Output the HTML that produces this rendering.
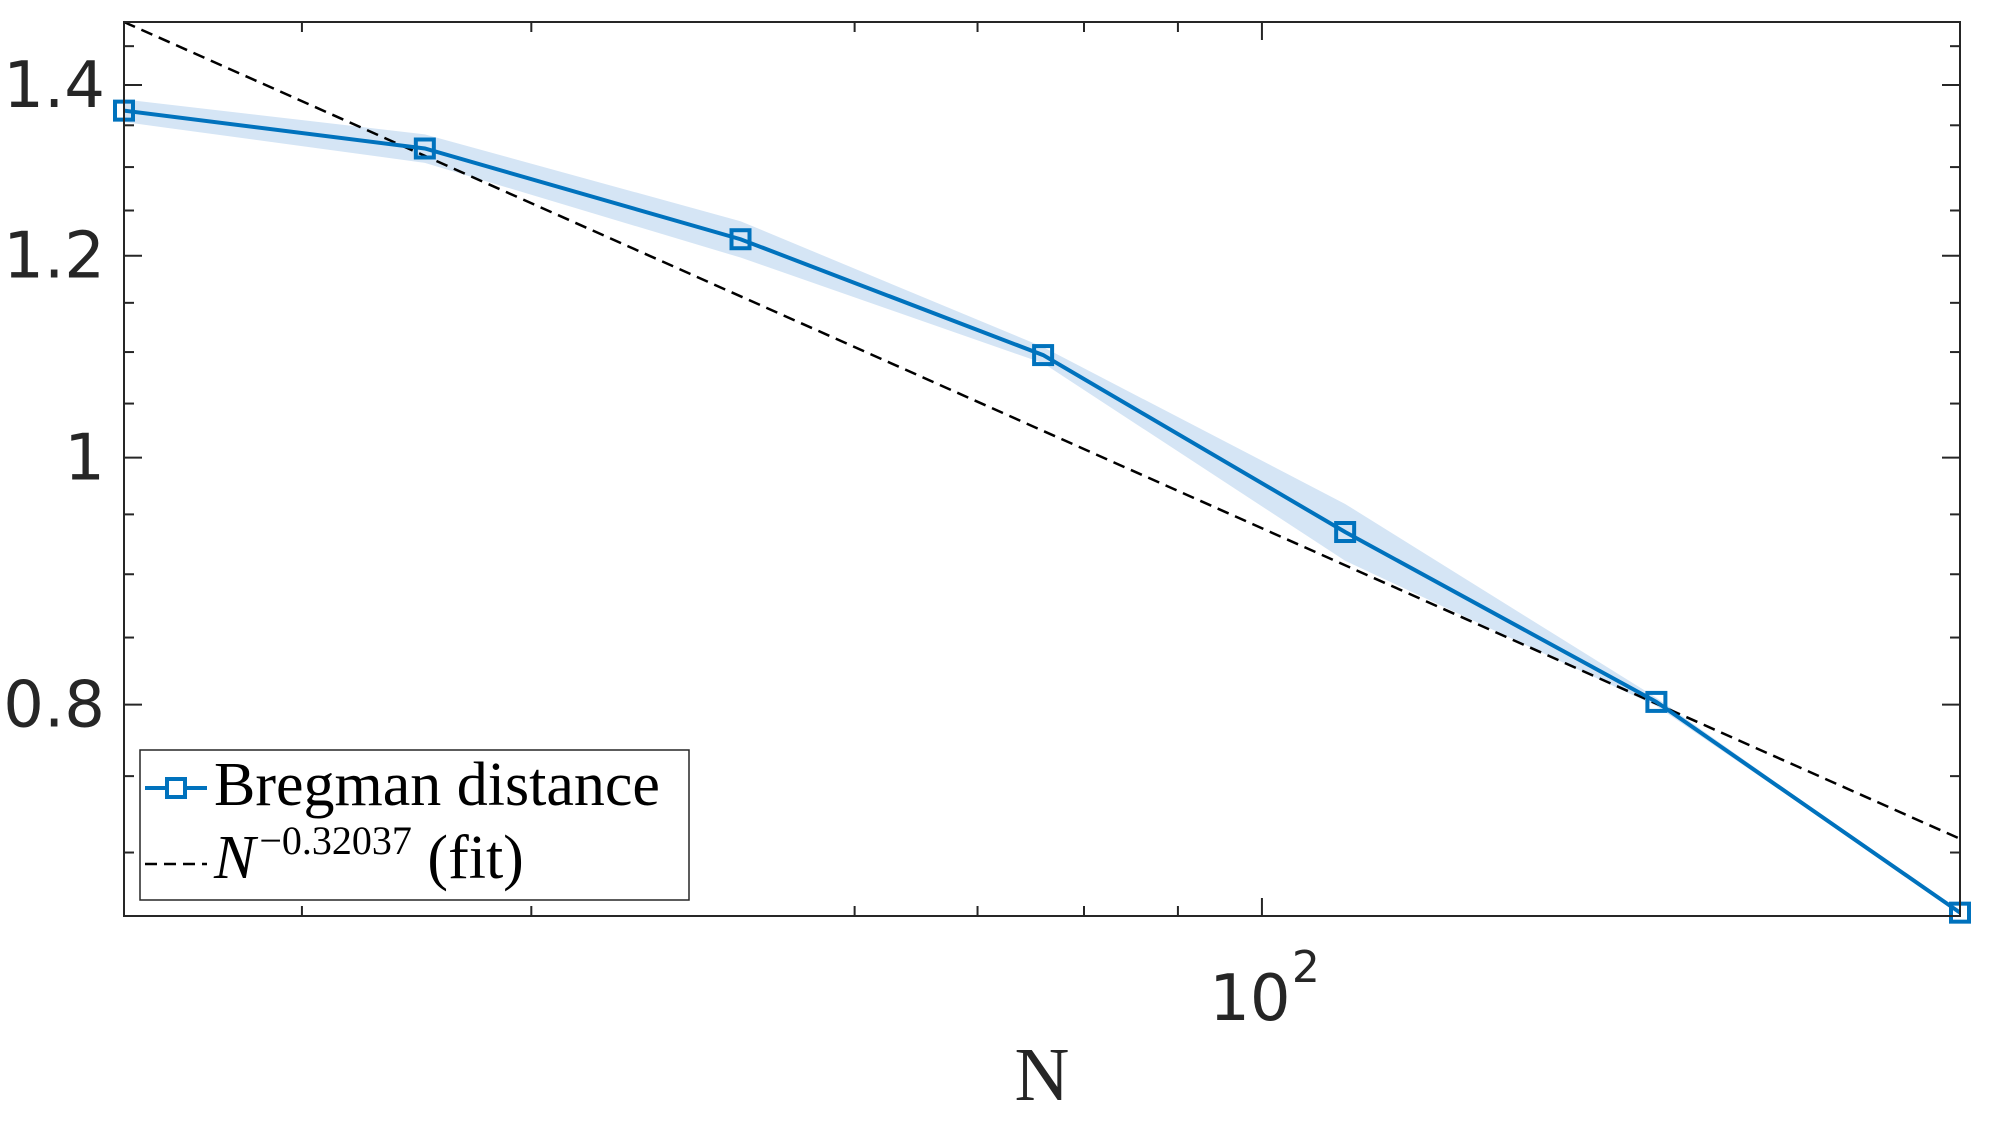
<!DOCTYPE html>
<html><head><meta charset="utf-8"><style>body{margin:0;background:#fff;position:relative}svg{display:block}</style></head>
<body>
<svg id="chart" width="2000" height="1125" xmlns="http://www.w3.org/2000/svg">
<rect x="0" y="0" width="2000" height="1125" fill="#fff"/>
<g id="plot"></g>
</svg>
<script>
const nValues = [24, 35, 52, 76, 111, 164, 240];
const distValues = [1.368, 1.322, 1.218, 1.097, 0.935, 0.802, 0.663];
const errValues = [0.014, 0.017, 0.02, 0.008, 0.024, 0.003, 0.0];
const fitExponent = -0.32037;
const fitAtLeft = 1.482;
const yMajorTicks = [0.8, 1, 1.2, 1.4];
const yTickLabels = ['0.8', '1', '1.2', '1.4'];
const yMinorTicks = [0.7, 0.75, 0.85, 0.9, 0.95, 1.05, 1.1, 1.15, 1.25, 1.3, 1.35, 1.45];
const xMinorTicks = [30, 40, 60, 70, 80, 90];
const xMajorTicks = [100];

const L=124,R=1960,T=22,B=916;
const xMin=24,xMax=240,yMin=0.661,yMax=1.482;
function X(n){return L+(Math.log10(n)-Math.log10(xMin))/(Math.log10(xMax)-Math.log10(xMin))*(R-L);}
function Y(v){return B-(Math.log10(v)-Math.log10(yMin))/(Math.log10(yMax)-Math.log10(yMin))*(B-T);}
const NS='http://www.w3.org/2000/svg';
const g=document.getElementById('plot');
function mk(tag,attrs,parent){const e=document.createElementNS(NS,tag);for(const k in attrs)e.setAttribute(k,attrs[k]);(parent||g).appendChild(e);return e;}

let up=nValues.map((n,i)=>X(n)+','+Y(distValues[i]+errValues[i]));
let lo=nValues.map((n,i)=>X(n)+','+Y(distValues[i]-errValues[i])).reverse();
const band=mk('polygon',{points:up.concat(lo).join(' '),fill:'#d5e5f5'});



const C=fitAtLeft*Math.pow(xMin,-fitExponent);
const fit=mk('line',{x1:X(xMin),y1:Y(C*Math.pow(xMin,fitExponent)),x2:X(xMax),y2:Y(C*Math.pow(xMax,fitExponent)),stroke:'#000','stroke-width':2.5,'stroke-dasharray':'12,7'});



const line=mk('polyline',{points:nValues.map((n,i)=>X(n)+','+Y(distValues[i])).join(' '),fill:'none',stroke:'#0072BD','stroke-width':4});


nValues.forEach((n,i)=>{
  const m=mk('rect',{x:X(n)-9,y:Y(distValues[i])-9,width:18,height:18,fill:'none',stroke:'#0072BD','stroke-width':4});
  
  
});

const box=mk('rect',{x:L,y:T,width:R-L,height:B-T,fill:'none',stroke:'#262626','stroke-width':2});



yMajorTicks.forEach((v,i)=>{
  mk('line',{x1:L,y1:Y(v),x2:L+18,y2:Y(v),stroke:'#262626','stroke-width':2});
  mk('line',{x1:R,y1:Y(v),x2:R-18,y2:Y(v),stroke:'#262626','stroke-width':2});
  const t=mk('text',{x:105,y:Y(v)+22,'text-anchor':'end','font-family':'"DejaVu Sans","Liberation Sans",sans-serif','font-size':64,fill:'#262626'});
  t.textContent=yTickLabels[i];
  
  
});
yMinorTicks.forEach(v=>{
  mk('line',{x1:L,y1:Y(v),x2:L+10,y2:Y(v),stroke:'#262626','stroke-width':2});
  mk('line',{x1:R,y1:Y(v),x2:R-10,y2:Y(v),stroke:'#262626','stroke-width':2});
});
xMinorTicks.forEach(n=>{
  mk('line',{x1:X(n),y1:B,x2:X(n),y2:B-10,stroke:'#262626','stroke-width':2});
  mk('line',{x1:X(n),y1:T,x2:X(n),y2:T+10,stroke:'#262626','stroke-width':2});
});
xMajorTicks.forEach(n=>{
  mk('line',{x1:X(n),y1:B,x2:X(n),y2:B-18,stroke:'#262626','stroke-width':2});
  mk('line',{x1:X(n),y1:T,x2:X(n),y2:T+18,stroke:'#262626','stroke-width':2});
  const t=mk('text',{x:X(n)-12,y:1020,'text-anchor':'middle','font-family':'"DejaVu Sans","Liberation Sans",sans-serif','font-size':64,fill:'#262626'});
  t.textContent='10';
  
  
  const s=mk('text',{x:X(n)+30,y:982,'font-family':'"DejaVu Sans","Liberation Sans",sans-serif','font-size':44,fill:'#262626'});
  s.textContent='2';
  
  
});
</script>
<svg style="position:absolute;left:0;top:0" width="2000" height="1125" xmlns="http://www.w3.org/2000/svg">
<text x="1042" y="1100" text-anchor="middle" font-family="'Liberation Serif',serif" font-size="76" fill="#262626">N</text>
<g>
<rect x="140" y="750" width="549" height="150" fill="#fff" stroke="#262626" stroke-width="1.5"/>
<line x1="145" y1="788" x2="207" y2="788" stroke="#0072BD" stroke-width="4"/>
<rect x="167" y="779" width="18" height="18" fill="#fff" stroke="#0072BD" stroke-width="4"/>
<text x="214" y="805" font-family="'Liberation Serif',serif" font-size="62" fill="#000">Bregman distance</text>
<line x1="145" y1="864" x2="207" y2="864" stroke="#000" stroke-width="2.5" stroke-dasharray="12,7"/>
<text x="214" y="878" font-family="'Liberation Serif',serif" font-size="62" fill="#000"><tspan font-style="italic">N</tspan><tspan dx="4" dy="-24" font-size="40">−0.32037</tspan><tspan dy="24"> (fit)</tspan></text>
</g>
</svg>
</body></html>
